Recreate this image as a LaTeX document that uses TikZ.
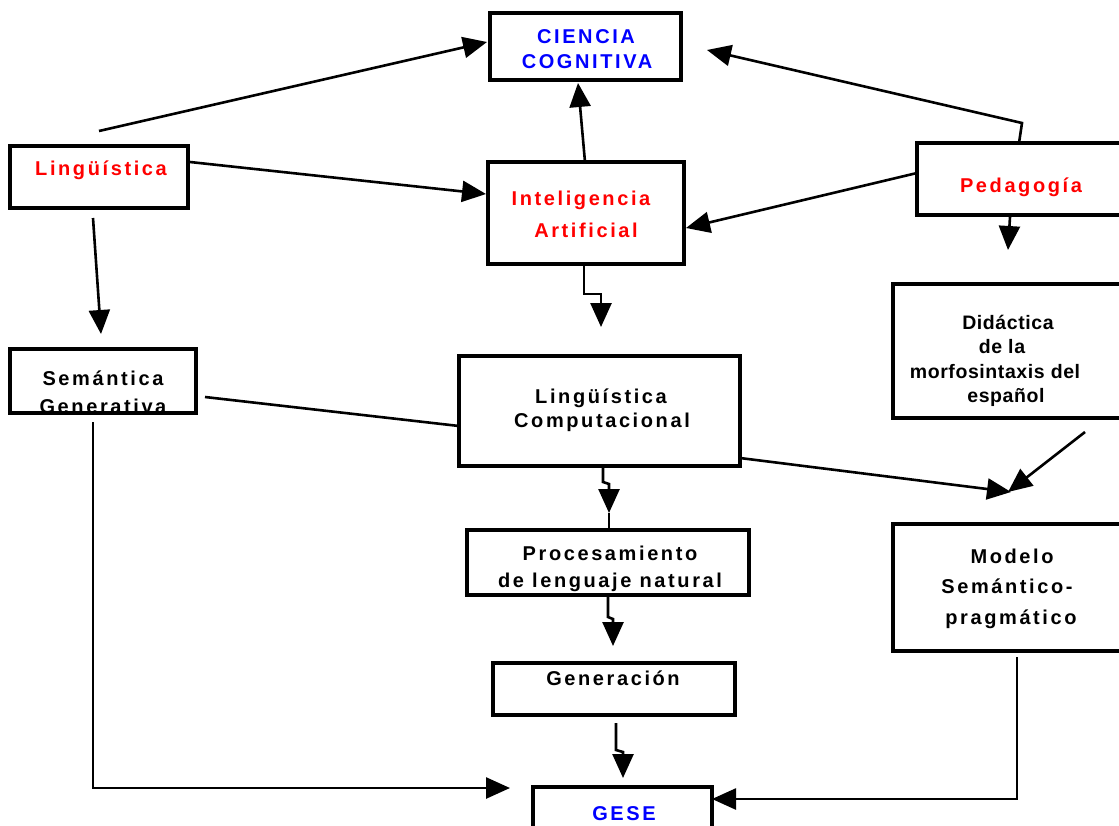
\documentclass[tikz,border=0pt]{standalone}
\usepackage{fontspec}
\setmainfont{Liberation Sans}
\usetikzlibrary{arrows.meta}
\definecolor{txtred}{RGB}{255,0,0}
\definecolor{txtblue}{RGB}{0,0,255}
\begin{document}
\begin{tikzpicture}[x=1pt,y=-1pt,
  box/.style={draw, line width=3.2pt, inner sep=0pt},
  txt/.style={font=\fontsize{20}{24}\selectfont\bfseries\addfontfeatures{LetterSpace=13}, inner sep=0pt, anchor=base},
  txtn/.style={font=\fontsize{19.5}{24}\selectfont\bfseries\addfontfeatures{LetterSpace=3}, inner sep=0pt, anchor=base},
  conn/.style={line width=2.6pt},
  arr/.style={conn, -{Triangle[length=24pt,width=21pt]}}]
\useasboundingbox (0,0) rectangle (1119,825);
\clip (0,0) rectangle (1119,825);
% boxes
\node[box, minimum width=191pt, minimum height=67pt] (cien) at (585.5,46.5) {};
\node[box, minimum width=178pt, minimum height=62pt] (ling) at (99,177) {};
\node[box, minimum width=196pt, minimum height=102pt] (ia) at (586,213) {};
\node[box, minimum width=223pt, minimum height=72pt] (ped) at (1028.5,179) {};
\node[box, minimum width=186pt, minimum height=64pt] (sem) at (103,381) {};
\node[box, minimum width=281pt, minimum height=110pt] (lcomp) at (599.5,411) {};
\node[box, minimum width=247pt, minimum height=134pt] (did) at (1016.5,351) {};
\node[box, minimum width=282pt, minimum height=65pt] (proc) at (608,562.5) {};
\node[box, minimum width=247pt, minimum height=127pt] (mod) at (1016.5,587.5) {};
\node[box, minimum width=242pt, minimum height=52pt] (gen) at (614,689) {};
\node[box, minimum width=179pt, minimum height=53pt] (gese) at (622.5,813.5) {};
% texts
\node[txt, txtblue] (cienA) at (586,43) {CIENCIA};
\node[txt, txtblue] (cienB) at (587,68) {COGNITIVA};
\node[txt, txtred] (lingA) at (101,175) {Lingüística};
\node[txt, txtred] (iaA) at (581,205) {Inteligencia};
\node[txt, txtred] (iaB) at (586,237) {Artificial};
\node[txt, txtred] (pedA) at (1021,192) {Pedagogía};
\node[txt] (semA) at (103,385) {Semántica};
\node[txt] (semB) at (103,413) {Generativa};
\node[txt] (lcA) at (601,403) {Lingüística};
\node[txt] (lcB) at (602,427) {Computacional};
\node[txtn] (didA) at (1008,329) {Didáctica};
\node[txtn] (didB) at (1002,353) {de la};
\node[txtn] (didC) at (995,378) {morfosintaxis del};
\node[txtn] (didD) at (1006,402) {español};
\node[txt] (procA) at (610,560) {Procesamiento};
\node[txt] (procB) at (610,587) {de lenguaje natural};
\node[txt] (modA) at (1012,563) {Modelo};
\node[txt] (modB) at (1007,593) {Semántico-};
\node[txt] (modC) at (1011,624) {pragmático};
\node[txt] (genA) at (613,685) {Generación};
\node[txt, txtblue] (geseA) at (624,820) {GESE};
% free-end coordinates
\coordinate (l1) at (99,131);
\coordinate (l1t) at (487,42);
\coordinate (l2) at (190,162);
\coordinate (l2t) at (486,194);
\coordinate (p1) at (1019,143);
\coordinate (p1b) at (1022,123);
\coordinate (p1t) at (707,50);
\coordinate (p2) at (917,173);
\coordinate (p2t) at (686,228);
\coordinate (i1) at (585,162);
\coordinate (i1t) at (578,83);
\coordinate (i2) at (584,264);
\coordinate (i2t) at (601,327);
\coordinate (p3) at (1010,217);
\coordinate (p3t) at (1008,250);
\coordinate (s1) at (93,218);
\coordinate (s1t) at (101,334);
\coordinate (s2) at (205,397);
\coordinate (s2t) at (459,426);
\coordinate (c1) at (740,458);
\coordinate (c1t) at (1011,492);
\coordinate (d1) at (1085,432);
\coordinate (d1t) at (1008,492);
\coordinate (c2) at (603,466);
\coordinate (c2t) at (609,513);
\coordinate (c2e) at (609,530);
\coordinate (r1) at (608,595);
\coordinate (r1t) at (613,646);
\coordinate (g1) at (616,723);
\coordinate (g1t) at (623,778);
\coordinate (s3) at (93,422);
\coordinate (s3t) at (510,788);
\coordinate (m1) at (1017,657);
\coordinate (m1t) at (712,799);
% connectors
\draw[arr] (l1) -- (l1t);
\draw[arr] (l2) -- (l2t);
\draw[arr] (p1) -- (p1b) -- (p1t);
\draw[arr] (p2) -- (p2t);
\draw[arr] (i1) -- (i1t);
\draw[arr] (i2) -- (584,294) -- (601,294) -- (i2t);
\draw[arr] (p3) -- (p3t);
\draw[arr] (s1) -- (s1t);
\draw[conn] (s2) -- (s2t);
\draw[arr] (c1) -- (c1t);
\draw[arr] (d1) -- (d1t);
\draw[arr] (c2) -- (603,482) -- (609,484) -- (c2t);
\draw[conn] (c2t) -- (c2e);
\draw[arr] (r1) -- (608,617) -- (613,619) -- (r1t);
\draw[arr] (g1) -- (616,750) -- (623,752) -- (g1t);
\draw[arr] (s3) -- (93,788) -- (s3t);
\draw[arr] (m1) -- (1017,799) -- (m1t);
\end{tikzpicture}
\end{document}
